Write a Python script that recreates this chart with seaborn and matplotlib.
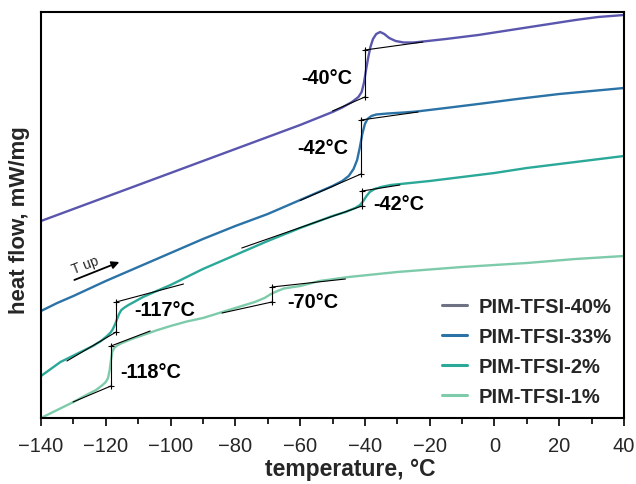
import matplotlib
matplotlib.use("Agg")
import matplotlib.pyplot as plt
import seaborn as sns
import pandas as pd
from matplotlib.lines import Line2D

sns.set_theme(style="ticks")
plt.rcParams['font.family'] = ['Liberation Sans', 'DejaVu Sans']

# ---------------- data (temperature in °C, heat flow in arbitrary units) ----------------
series_names = ["PIM-TFSI-40%", "PIM-TFSI-33%", "PIM-TFSI-2%", "PIM-TFSI-1%"]

t_40 = [-140, -130, -120, -100, -80, -60, -55, -50, -47, -44, -42, -41, -40.3, -39.7, -39,
        -38.3, -37.5, -36.5, -35.3, -34, -32.5, -30.5, -28, -25, -22, -15, -5, 5, 15, 25, 32, 40]
hf_40 = [197, 209, 221, 245, 269, 293, 299.5, 306, 310.5, 316, 321, 326, 335, 347, 360,
         371, 379, 384, 386, 384, 380, 377, 375.5, 375.5, 376.5, 379, 383, 388, 393, 398, 401, 403]

t_33 = [-140, -135, -130, -120, -110, -100, -90, -80, -70, -60, -55, -50, -47, -45, -43.5,
        -42.4, -41.6, -40.8, -40, -39.2, -38, -36.5, -33, -28, -24, -15, -5, 7, 20, 30, 40]
hf_33 = [107, 115, 122, 137, 151, 165, 179, 192, 204, 218, 225, 232, 237, 242, 249,
         258, 270, 284, 294, 299, 302, 303.5, 304.5, 305.5, 306.5, 310, 314, 319, 324, 327, 330]

t_2 = [-140, -134, -129, -124, -121.5, -119.6, -118.5, -117.8, -117.1, -116.5, -115.9, -115.2,
       -114.2, -113, -111, -108.5, -105, -100, -90, -80, -70, -60, -55, -50, -46, -43, -41.5,
       -40.5, -39.5, -38.5, -37, -35, -32, -29, -20, -10, 0, 10, 20, 30, 40]
hf_2 = [42, 56, 64, 72, 77, 82, 85.5, 89, 94, 99, 104, 108,
        110.5, 113, 116.5, 121, 126, 133, 149, 163, 177, 190, 196, 202, 206, 210, 213,
        217, 222, 226, 229, 231, 233, 234, 237, 241, 245, 250, 254, 258, 262]

t_1 = [-140, -135, -130, -126, -123, -121, -120, -119.3, -118.8, -118.4, -118, -117.4, -116.5,
       -115, -112, -108, -104, -100, -95, -90, -84, -78, -74, -71, -69, -67, -65, -62, -60,
       -54, -45, -30, -10, 10, 25, 40]
hf_1 = [0, 8, 16, 23, 28, 33, 36, 40, 48, 58, 66, 70, 72.5,
        75, 79, 83.5, 88, 92, 96.5, 100, 106, 112, 116, 120, 124, 127, 129.5, 131, 132,
        137, 141, 146, 151, 155, 159, 162]

# glass transition annotations
tg_labels = ["-40°C", "-42°C", "-42°C", "-117°C", "-118°C", "-70°C"]
tg_text_x = [-51.7, -52.9, -29.5, -101.7, -106.0, -56.0]
tg_text_y = [341, 271, 214, 109, 47, 116]

# tangent constructions
tan_lo_start = [(-50, 307), (-60, 217.5), (-78, 170), (-132, 57), (-130.1, 16), (-84.1, 105)]
tan_step_t = [-40, -41.2, -40.9, -116.8, -118.4, -68.7]
tan_step_lo = [321, 244, 212, 86, 32, 116]
tan_step_hi = [368, 298, 227, 116, 72, 131]
tan_hi_end = [(-22.1, 376), (-23.6, 306), (-29.2, 233), (-96, 134), (-106.3, 87), (-46, 139)]

curve_colors = ["#5a56ae", "#2b72a6", "#2aa898", "#7dcbaa"]
legend_colors = ["#6e7282", "#2b72a6", "#2aa898", "#7dcbaa"]

frames = []
for name, t, h in zip(series_names, [t_40, t_33, t_2, t_1], [hf_40, hf_33, hf_2, hf_1]):
    frames.append(pd.DataFrame({"temperature": t, "heat_flow": h, "sample": name}))
df = pd.concat(frames, ignore_index=True)

# ---------------- figure ----------------
fig = plt.figure(figsize=(6.36, 4.85), dpi=100)
ax = fig.add_axes([41 / 636, (485 - 419) / 485, (624 - 41) / 636, (419 - 13) / 485])

sns.lineplot(data=df, x="temperature", y="heat_flow", hue="sample", hue_order=series_names,
             palette=curve_colors, estimator=None, sort=False, linewidth=1.7, ax=ax, legend=False)

for (x0, y0), ts, ylo, yhi, (x1, y1) in zip(tan_lo_start, tan_step_t, tan_step_lo, tan_step_hi, tan_hi_end):
    ax.plot([x0, ts], [y0, ylo], color="black", lw=0.8, zorder=5)
    ax.plot([ts, ts], [ylo, yhi], color="black", lw=0.8, zorder=5)
    ax.plot([ts, x1], [yhi, y1], color="black", lw=0.8, zorder=5)
    ax.plot([ts, ts], [ylo, yhi], ls="none", marker="+", ms=4, mew=0.8, color="black", zorder=6)

for lab, x, y in zip(tg_labels, tg_text_x, tg_text_y):
    ax.text(x, y, lab, fontsize=14.3, fontweight="bold", ha="center", va="center", color="black")

# "T up" arrow
ax.annotate("", xy=(-115, 157), xytext=(-130.5, 137),
            arrowprops=dict(arrowstyle="-|>", color="black", lw=1.3, mutation_scale=11))
ax.text(-126.3, 153, "T up", fontsize=10, rotation=21, ha="center", va="center")

ax.set_xlim(-140, 40)
ax.set_ylim(0, 406)
ax.set_xticks(range(-140, 41, 20))
ax.set_xticks(range(-130, 41, 20), minor=True)
ax.set_yticks([])
ax.tick_params(axis="x", which="major", direction="out", length=6, width=1.4, labelsize=14.5, pad=7)
ax.tick_params(axis="x", which="minor", direction="out", length=4, width=1.4)
for s in ax.spines.values():
    s.set_visible(True)
    s.set_linewidth(1.5)
    s.set_color("black")

ax.set_xlabel("temperature, °C", fontsize=16.5, fontweight="bold")
ax.xaxis.set_label_coords(0.53, -0.097)
ax.set_ylabel("heat flow, mW/mg", fontsize=16, fontweight="bold")
ax.yaxis.set_label_coords(-0.019, 0.49)

handles = [Line2D([0], [0], color=c, lw=2.2) for c in legend_colors]
ax.legend(handles, series_names, loc="lower right", frameon=False,
          prop=dict(size=14.5, weight="bold"), handlelength=1.25, handletextpad=0.6,
          labelspacing=0.55, borderaxespad=0.2, bbox_to_anchor=(1.0, 0.0))

fig.savefig("out.png", dpi=100)
